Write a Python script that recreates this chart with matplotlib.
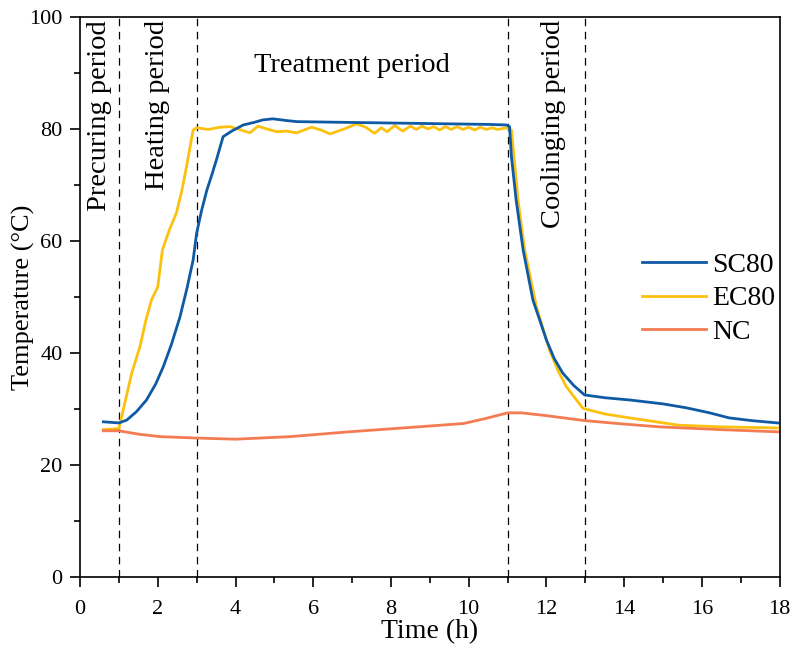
import matplotlib
matplotlib.use("Agg")
import matplotlib.pyplot as plt
from matplotlib.ticker import MultipleLocator

# --- data ---
sc80_t = [0.6, 1.0, 1.2, 1.45, 1.71, 1.95, 2.14, 2.35, 2.57, 2.75, 2.91, 3.0, 3.13, 3.26, 3.4, 3.51, 3.68,
          3.9, 4.2, 4.5, 4.7, 4.96, 5.3, 5.57, 6.5, 7.5, 8.5, 9.5, 10.5, 10.97, 11.05, 11.1, 11.22, 11.4, 11.65,
          12.0, 12.2, 12.42, 12.7, 12.98, 13.5, 14.14, 15.0, 15.6, 16.2, 16.7, 17.3, 17.95]
sc80_T = [27.7, 27.5, 28.0, 29.5, 31.6, 34.5, 37.5, 41.5, 46.4, 51.5, 56.6, 61.4, 65.5, 69.0, 72.0, 74.5, 78.6,
          79.6, 80.7, 81.2, 81.6, 81.8, 81.5, 81.3, 81.2, 81.1, 81.0, 80.9, 80.8, 80.7, 80.4, 75.0, 67.3, 58.4, 49.5,
          42.3, 39.0, 36.4, 34.2, 32.5, 32.0, 31.6, 30.9, 30.2, 29.3, 28.4, 27.9, 27.5]

ec80_t = [0.6, 1.0, 1.07, 1.2, 1.33, 1.54, 1.7, 1.84, 2.0, 2.12, 2.3, 2.48, 2.62, 2.74, 2.91, 3.0, 3.3, 3.6,
          3.86, 4.1, 4.37, 4.58, 4.8, 5.06, 5.3, 5.57, 5.96, 6.2, 6.43, 6.8, 7.11, 7.35, 7.58, 7.75, 7.9, 8.1,
          8.3, 8.5, 8.65, 8.8, 8.95, 9.1, 9.25, 9.4, 9.55, 9.7, 9.85, 10.0, 10.15, 10.3, 10.45, 10.6, 10.75,
          10.97, 11.1, 11.27, 11.44, 11.74, 12.08, 12.3, 12.51, 12.75, 12.94, 13.5, 14.14, 15.4, 16.5, 17.95]
ec80_T = [26.3, 26.5, 28.6, 32.5, 36.4, 41.1, 46.0, 49.5, 51.8, 58.4, 62.0, 65.0, 69.0, 73.3, 79.8, 80.2, 79.9, 80.3,
          80.4, 79.9, 79.3, 80.5, 80.0, 79.5, 79.6, 79.3, 80.3, 79.8, 79.1, 80.0, 80.9, 80.3, 79.2, 80.2, 79.5, 80.6,
          79.6, 80.5, 79.9, 80.5, 80.0, 80.4, 79.8, 80.4, 79.9, 80.4, 79.9, 80.3, 79.8, 80.3, 79.9, 80.2, 79.9,
          80.2, 79.8, 67.3, 58.4, 48.3, 40.5, 36.8, 34.0, 31.8, 30.1, 29.1, 28.4, 27.1, 26.8, 26.6]

nc_t = [0.6, 1.0, 1.5, 2.07, 3.0, 4.0, 5.4, 6.89, 8.5, 9.87, 10.44, 11.0, 11.36, 12.0, 13.0, 14.0, 14.9, 16.5, 18.0]
nc_T = [26.1, 26.1, 25.5, 25.05, 24.8, 24.6, 25.05, 25.9, 26.7, 27.4, 28.3, 29.3, 29.3, 28.8, 27.9, 27.3, 26.8, 26.3, 25.9]

period_bounds = [1, 3, 11, 13]
x_ticks = list(range(0, 19, 2))
y_ticks = list(range(0, 101, 20))

plt.rcParams['font.family'] = ['Liberation Serif', 'DejaVu Serif']
plt.rcParams['mathtext.fontset'] = 'stix'

fig = plt.figure(figsize=(7.98, 6.49), dpi=100)
ax = fig.add_axes([0.1003, 0.111, 0.8767, 0.863])

ax.plot(sc80_t, sc80_T, color='#0f5aa5', lw=2.0, label='SC80', zorder=3)
ax.plot(ec80_t, ec80_T, color='#fcc10f', lw=2.0, label='EC80', zorder=2)
ax.plot(nc_t, nc_T, color='#f47c52', lw=2.0, label='NC', zorder=2)

for b in period_bounds:
    ax.axvline(b, color='black', lw=0.9, ls=(0, (6, 4.5)), zorder=1)

ax.set_xlim(0, 18)
ax.set_ylim(0, 100)
ax.set_xticks(x_ticks)
ax.set_yticks(y_ticks)
ax.xaxis.set_minor_locator(MultipleLocator(1))
ax.yaxis.set_minor_locator(MultipleLocator(10))
ax.tick_params(which='both', direction='out', width=1.2, labelsize=16)
ax.tick_params(which='major', length=7.5)
ax.tick_params(which='minor', length=4)
ax.tick_params(axis='x', which='major', pad=9)
ax.tick_params(axis='y', which='major', pad=5)
for s in ax.spines.values():
    s.set_linewidth(1.2)

ax.set_xlabel('Time (h)', fontsize=20, labelpad=0)
ax.set_ylabel('Temperature (°C)', fontsize=19)
ax.yaxis.set_label_coords(-0.064, 0.5)

fs = 20.5
ax.text(0.5, 99.4, 'Precuring period', rotation=90, ha='center', va='top', fontsize=fs)
ax.text(2.0, 99.4, 'Heating period', rotation=90, ha='center', va='top', fontsize=fs)
ax.text(7.0, 91.3, 'Treatment period', ha='center', va='center', fontsize=fs)
ax.text(12.17, 99.4, 'Coolinging period', rotation=90, ha='center', va='top', fontsize=fs)

ax.legend(loc='center left', bbox_to_anchor=(0.775, 0.497), frameon=False, fontsize=20,
          handlelength=2.3, labelspacing=0.28, handletextpad=0.25, borderpad=0.2)

fig.savefig('out.png', dpi=100)
